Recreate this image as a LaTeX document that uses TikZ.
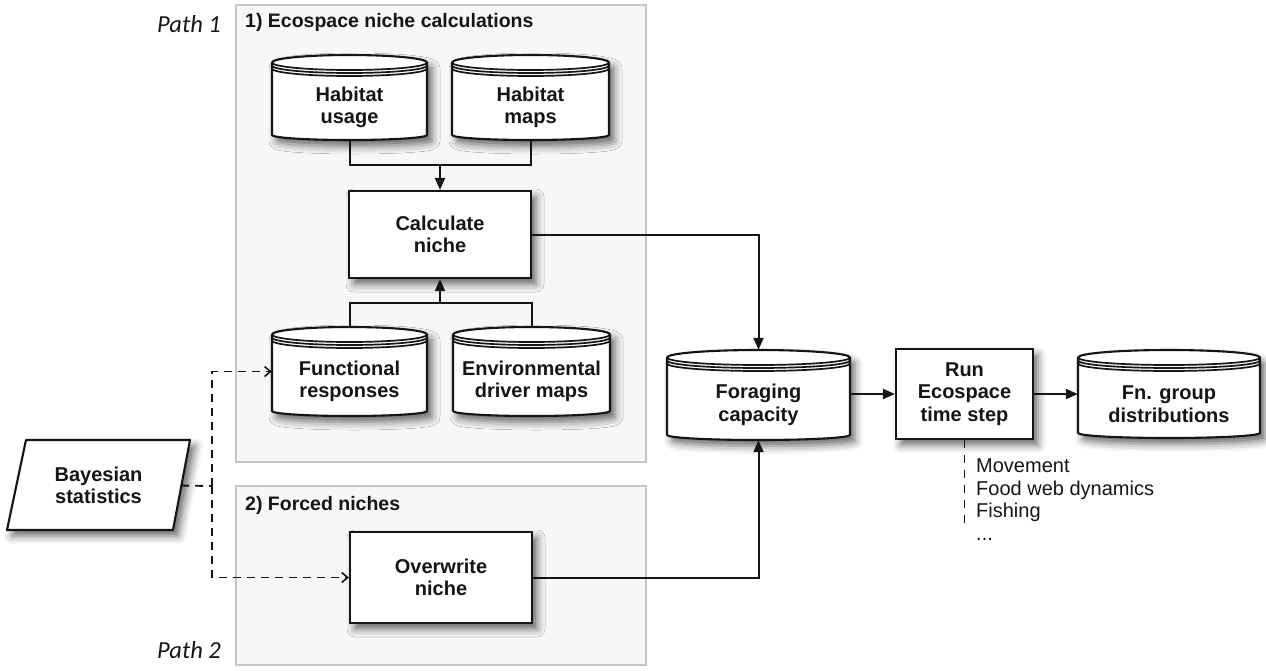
\documentclass[tikz,border=0pt]{standalone}
\usepackage{fontspec}
\setmainfont{Liberation Sans}
\newfontfamily\pathfont{Carlito}
\usetikzlibrary{arrows.meta,shadows.blur,calc}
\definecolor{panelfill}{HTML}{F7F7F7}
\definecolor{panelline}{HTML}{C6C6C6}
\definecolor{ink}{HTML}{151515}
\tikzset{
  myshadow/.style={blur shadow={shadow xshift=5pt,shadow yshift=-6pt,shadow blur radius=8pt,shadow opacity=60}},
  panel/.style={draw=panelline,line width=2pt,fill=panelfill},
  boxtext/.style={font=\bfseries\fontsize{20}{22.5}\selectfont,align=center,text=ink,inner sep=0pt},
  titletext/.style={font=\bfseries\fontsize{19.5}{22}\selectfont,text=ink,inner sep=0pt},
  pathtext/.style={font=\pathfont\itshape\fontsize{24.5}{27}\selectfont,text=ink,inner sep=0pt},
  listtext/.style={font=\fontsize{20}{22.5}\selectfont,align=left,text=ink,inner sep=0pt},
  procbox/.style={boxtext,draw=ink,line width=2.1pt,fill=white,myshadow},
  cylbody/.style={draw=ink,line width=2.1pt,fill=white,line join=round,myshadow},
  cylline/.style={draw=ink,line width=1.7pt},
  conn/.style={draw=ink,line width=2pt},
  dsh/.style={draw=ink,line width=1.9pt,dash pattern=on 8pt off 6pt},
  tip/.style={-{Triangle[length=12pt,width=10pt]}},
  otip/.style={-{Straight Barb[length=6pt,width=10pt,line width=1.6pt]}},
}
\newcommand\dbcyl[6]{%
  \pgfmathsetmacro\cylcx{(#2+#4)/2}%
  \pgfmathsetmacro\cylrx{(#4-#2)/2}%
  \pgfmathsetmacro\cylyc{#3+7.5}%
  \pgfmathsetmacro\cylyb{#5-5}%
  \pgfmathsetmacro\cylcy{(#3+#5)/2}%
  \pgfmathsetmacro\cylw{#4-#2}%
  \pgfmathsetmacro\cylh{#5-#3}%
  \path[cylbody] (#2,\cylyc) arc[start angle=180,end angle=360,x radius=\cylrx,y radius=7.5]
     -- (#4,\cylyb) arc[start angle=0,end angle=180,x radius=\cylrx,y radius=5] -- cycle;
  \foreach \o in {0,3,6}{\draw[cylline] (#2,\cylyc+\o) arc[start angle=180,end angle=0,x radius=\cylrx,y radius=7.5];}
  \node[inner sep=0pt,minimum width=\cylw pt,minimum height=\cylh pt] (#1) at (\cylcx,\cylcy) {};
  \node[boxtext] (#1t) at (\cylcx,\cylcy+10) {#6};
}
\begin{document}
\begin{tikzpicture}[x=1pt,y=-1pt]
\useasboundingbox (0,0) rectangle (1266,670);
% panels
\draw[panel] (236,5) rectangle (646,462);
\draw[panel] (236,486) rectangle (646,665);
\node[titletext,anchor=west] (t1) at (245,22) {1) Ecospace niche calculations};
\node[titletext,anchor=west] (t2) at (245,505) {2) Forced niches};
\node[pathtext,anchor=east] (p1) at (221,24) {Path 1};
\node[pathtext,anchor=east] (p2) at (221,650) {Path 2};
% cylinders
\dbcyl{hu}{272}{55}{427}{140}{Habitat\\usage}
\dbcyl{hm}{452}{55}{609}{140}{Habitat\\maps}
\dbcyl{fr}{272}{327}{427}{416}{Functional\\responses}
\dbcyl{ed}{453}{327}{610}{416}{Environmental\\driver maps}
\dbcyl{fc}{667}{350}{850}{440}{Foraging\\capacity}
\dbcyl{fd}{1078}{350}{1260}{438}{Fn. group\\distributions}
% process boxes
\node[procbox,minimum width=182pt,minimum height=87pt] (cn) at (440,234.5) {Calculate\\niche};
\node[procbox,minimum width=182pt,minimum height=91pt] (on) at (441,577.5) {Overwrite\\niche};
\node[procbox,minimum width=137pt,minimum height=90pt] (rn) at (964.5,394) {Run\\Ecospace\\time step};
% Bayesian statistics parallelogram
\path[cylbody] (26,440) -- (190,440) -- (173,530) -- (7,530) -- cycle;
\node[boxtext,minimum width=165pt,minimum height=90pt] (bs) at (98.5,485.5) {Bayesian\\statistics};
% connectors
\coordinate (j1) at (440,165);
\draw[conn] (hu.south) |- (j1) -| (hm.south);
\draw[conn,tip] (j1) -- (cn.north);
\coordinate (j2) at (440,303);
\draw[conn] (fr.north) |- (j2) -| (ed.north);
\draw[conn,tip] (j2) -- (cn.south);
\draw[conn,tip] (cn.east) -| (fc.north);
\draw[conn,tip] (on.east) -| (fc.south);
\draw[conn,tip] (fc.east |- rn.west) -- (rn.west);
\draw[conn,tip] (rn.east) -- (rn.east -| fd.west);
% dashed links
\coordinate (dv) at (212,486);
\draw[dsh] (bs.east) -- (dv);
\draw[dsh,otip] (dv) |- (fr.west);
\draw[dsh,otip] (dv) |- (on.west);
% list
\coordinate (lend) at (964.5,530);
\draw[dsh,dash pattern=on 8pt off 7pt] (rn.south) -- (lend);
\node[listtext,anchor=north west] (lst) at (976,459) {Movement\\Food web dynamics\\Fishing\\...};
\end{tikzpicture}
\end{document}
